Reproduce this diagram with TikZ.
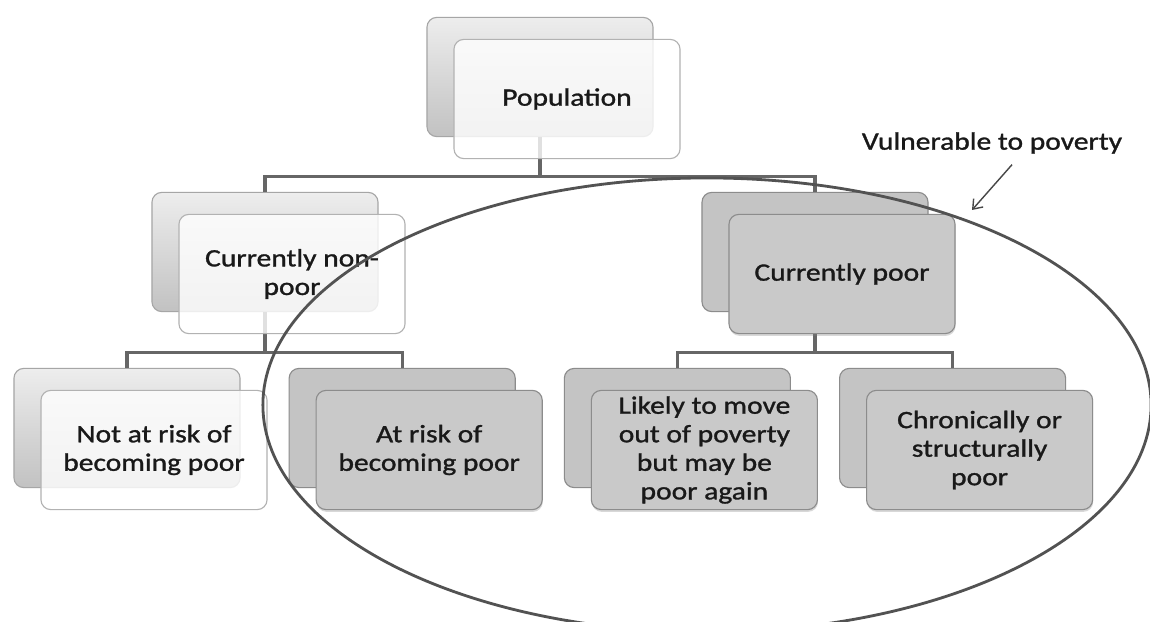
\documentclass[tikz,border=0pt]{standalone}
\usepackage{fontspec}
\setmainfont{Carlito}[FakeStretch=1.18, FakeBold=1.2]
\usetikzlibrary{positioning,arrows.meta,shadows}

\begin{document}
\begin{tikzpicture}[x=0.025cm, y=-0.025cm,
        font=\fontsize{17.8}{20.3}\selectfont, text=black!90,
        box/.style={rounded corners=7pt, minimum width=5.65cm, minimum height=2.98cm, align=center, inner sep=2pt, line width=0.8pt},
        paleback/.style={box, draw=black!35, top color=black!7, bottom color=black!24},
        palefront/.style={box, draw=black!30, fill=white, fill opacity=0.8, text opacity=1},
        darkback/.style={box, draw=black!45, fill=black!23},
        darkfront/.style={box, draw=black!45, fill=black!21, drop shadow={shadow xshift=0.4pt, shadow yshift=-1.6pt, opacity=0.3}},
        link/.style={draw=black!60, line width=2.3pt},
        ring/.style={draw=black!68, line width=2pt},
        pointer/.style={draw=black!72, line width=1pt, -{Straight Barb[length=6pt, width=9pt]}}]
        \useasboundingbox (0,0) rectangle (1150,622); %
        \clip (0,0) rectangle (1150,622); %
        \fill[white] (0,0) rectangle (1150,622); %
        %
        \node[paleback] (pop_b) at (540,77) {} ; %
        \node[paleback] (nonpoor_b) at (265,252) {} ; %
        \node[darkback] (poor_b) at (815,252) {} ; %
        \node[paleback] (safe_b) at (127,428) {} ; %
        \node[darkback, right = 1.2cm of safe_b] (risk_b) {} ; %
        \node[darkback, right = 1.2cm of risk_b] (exit_b) {} ; %
        \node[darkback, right = 1.2cm of exit_b] (chronic_b) {} ; %
        %
        \draw[link] (pop_b.south) -- ++(0,39) -| (nonpoor_b.north) ; %
        \draw[link] (pop_b.south) -- ++(0,39) -| (poor_b.north) ; %
        \draw[link] (nonpoor_b.south) -- ++(0,40) -| (safe_b.north) ; %
        \draw[link] (nonpoor_b.south) -- ++(0,40) -| (risk_b.north) ; %
        \draw[link] (poor_b.south) -- ++(0,40) -| (exit_b.north) ; %
        \draw[link] (poor_b.south) -- ++(0,40) -| (chronic_b.north) ; %
        %
        \node[palefront] (pop) at ([shift={(27,22)}]pop_b) {Population} ; %
        \node[palefront] (nonpoor) at ([shift={(27,22)}]nonpoor_b) {Currently non-\\poor} ; %
        \node[darkfront] (poor) at ([shift={(27,22)}]poor_b) {Currently poor} ; %
        \node[palefront] (safe) at ([shift={(27,22)}]safe_b) {Not at risk of\\becoming poor} ; %
        \node[darkfront] (risk) at ([shift={(27,22)}]risk_b) {At risk of\\becoming poor} ; %
        \node[darkfront] (exit) at ([shift={(27,22)}]exit_b) {Likely to move\\out of poverty\\but may be\\poor again} ; %
        \node[darkfront] (chronic) at ([shift={(27,22)}]chronic_b) {Chronically or\\structurally\\poor} ; %
        %
        \coordinate (ring_c) at (707,405) ; %
        \draw[ring] (ring_c) ellipse [x radius=11.1cm, y radius=5.675cm] ; %
        \node (vuln) at (992,143) {Vulnerable to poverty} ; %
        \coordinate (tip) at (972,210) ; %
        \draw[pointer] ([xshift=0.5cm, yshift=-0.15cm]vuln.south) -- (tip) ; %
\end{tikzpicture}
\end{document}
